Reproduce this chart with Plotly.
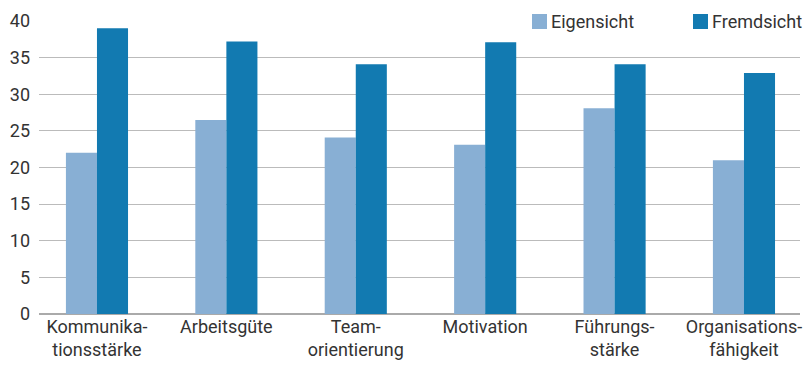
import plotly.graph_objects as go

categories = ["Kommunika-<br>tionsstärke", "Arbeitsgüte", "Team-<br>orientierung",
              "Motivation", "Führungs-<br>stärke", "Organisations-<br>fähigkeit"]
eigensicht = [22.0, 26.5, 24.1, 23.1, 28.1, 21.0]
fremdsicht = [39.0, 37.2, 34.1, 37.1, 34.1, 32.9]
y_ticks = [0, 5, 10, 15, 20, 25, 30, 35, 40]
series_names = ["Eigensicht", "Fremdsicht"]
series_colors = ["#88AFD4", "#127AB1"]

FONT = "Roboto, sans-serif"
TXT = "#333333"
FS = 18

fig = go.Figure()
for name, vals, col in zip(series_names, [eigensicht, fremdsicht], series_colors):
    fig.add_trace(go.Bar(x=categories, y=vals, name=name,
                         marker=dict(color=col, line=dict(width=0))))

# plot area in pixels: x 39..800, y 21..314
def px(x):
    return (x - 39) / 761

def py(y):
    return (314 - y) / 293

shapes = [
    dict(type="rect", xref="paper", yref="paper", x0=px(516), x1=px(803),
         y0=py(34), y1=py(6), fillcolor="white", line=dict(width=0), layer="above"),
]
annotations = []
legend_x = [532, 693]
for name, col, lx in zip(series_names, series_colors, legend_x):
    shapes.append(dict(type="rect", xref="paper", yref="paper", x0=px(lx), x1=px(lx + 15),
                       y0=py(29), y1=py(14), fillcolor=col, line=dict(width=0), layer="above"))
    annotations.append(dict(text=name, xref="paper", yref="paper", x=px(lx + 17), y=py(21),
                            xanchor="left", yanchor="middle", showarrow=False,
                            font=dict(family=FONT, size=FS, color=TXT)))

fig.update_layout(
    width=803, height=367,
    margin=dict(l=39, r=3, t=21, b=53, autoexpand=False),
    paper_bgcolor="white", plot_bgcolor="white",
    barmode="group", bargap=0.52, bargroupgap=0,
    font=dict(family=FONT, size=FS, color=TXT),
    showlegend=False,
    shapes=shapes, annotations=annotations,
    xaxis=dict(range=[-0.448, 5.433], showgrid=False, zeroline=False,
               showline=False, ticks="", tickfont=dict(size=FS)),
    yaxis=dict(range=[0, 40], tickvals=y_ticks, showgrid=True,
               gridcolor="#BBBBBB", gridwidth=1.3, zeroline=True,
               zerolinecolor="#AAAAAA", zerolinewidth=1.5, showline=False,
               ticks="", ticklabelstandoff=8, tickfont=dict(size=FS)),
)

fig.write_html("out.html")
